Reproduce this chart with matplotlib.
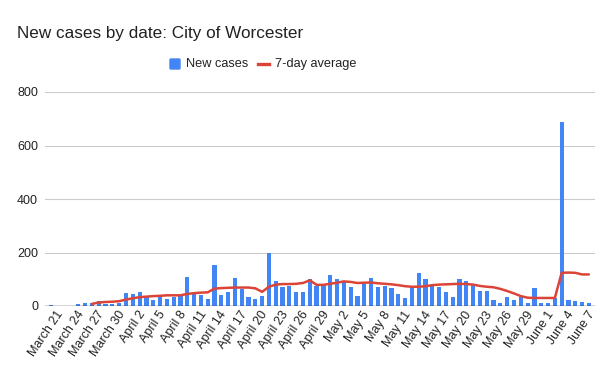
import matplotlib
matplotlib.use("Agg")
import matplotlib.pyplot as plt
import matplotlib.transforms as mtransforms
from matplotlib.patches import FancyBboxPatch
from matplotlib.lines import Line2D
import numpy as np

plt.rcParams['font.family'] = ['Liberation Sans', 'DejaVu Sans']

# ---- data (March 21 .. June 8) ----
days = ["March %d" % d for d in range(21, 32)] + \
       ["April %d" % d for d in range(1, 31)] + \
       ["May %d" % d for d in range(1, 32)] + \
       ["June %d" % d for d in range(1, 9)]

new_cases = [3, 0, 0, 0, 7, 10, 13, 17, 9, 9,
             10, 47, 43, 51, 38, 22, 38, 26, 33, 36,
             107, 44, 42, 25, 152, 42, 51, 103, 65, 33,
             25, 37, 200, 92, 72, 75, 51, 51, 100, 76,
             79, 117, 100, 93, 72, 38, 81, 106, 72, 76,
             66, 45, 29, 76, 122, 100, 76, 72, 51, 32,
             100, 92, 83, 56, 56, 22, 13, 35, 22, 32,
             13, 69, 13, 10, 29, 687, 22, 20, 16, 10]

seven_day_avg = [None, None, None, None, None, None, 8, 13, 15, 16,
                 18, 24, 29, 33, 35, 37, 38, 40, 40, 40,
                 45, 48, 50, 51, 65, 67, 68, 69, 69, 69,
                 66, 53, 72, 80, 82, 82, 83, 86, 96, 79,
                 79, 83, 87, 92, 90, 86, 87, 88, 85, 83,
                 81, 78, 74, 72, 72, 74, 78, 80, 81, 82,
                 83, 82, 80, 75, 72, 70, 64, 56, 47, 37,
                 31, 30, 30, 30, 30, 124, 125, 124, 118, 118]

y_ticks = [0, 200, 400, 600, 800]
title = "New cases by date: City of Worcester"
series_names = ["New cases", "7-day average"]

BLUE = "#4285F4"
RED = "#DB4437"
W, H = 613, 379

fig = plt.figure(figsize=(W / 100, H / 100), dpi=100)
ax = fig.add_axes([45 / W, 1 - 306 / H, (595 - 45) / W, (306 - 92) / H])

x = np.arange(len(days))
ax.bar(x, new_cases, width=0.62, color=BLUE, zorder=2)
avg = np.array([np.nan if v is None else v for v in seven_day_avg], dtype=float)
ax.plot(x, avg, color=RED, lw=1.8, zorder=3, solid_capstyle='round')

ax.set_xlim(-0.9, len(days) - 0.1)
ax.set_ylim(0, 800)
ax.set_yticks(y_ticks)
ax.set_yticklabels([str(v) for v in y_ticks], fontsize=9, color="#222222")
ax.grid(axis='y', color="#cccccc", lw=0.8, zorder=0)
ax.set_axisbelow(True)
for s in ax.spines.values():
    s.set_visible(False)
ax.axhline(0, color="#333333", lw=1.0, zorder=4)
ax.tick_params(axis='both', length=0)
ax.tick_params(axis='y', pad=5)

tick_idx = list(range(0, len(days), 3))
ax.set_xticks(tick_idx)
ax.set_xticklabels([days[i] for i in tick_idx], fontsize=9, color="#222222",
                   rotation=56, ha='right', va='top', rotation_mode='anchor')
offset = mtransforms.ScaledTranslation(5 / 100, 2 / 100, fig.dpi_scale_trans)
for lbl in ax.get_xticklabels():
    lbl.set_transform(lbl.get_transform() + offset)

def fx(px):
    return px / W

def fy(py):
    return 1 - py / H

fig.text(fx(17), fy(38.3), title, fontsize=12.3, color="#212121",
         ha='left', va='baseline')

# legend
fig.patches.append(FancyBboxPatch((fx(170), fy(69)), fx(10), 10 / H,
                                  boxstyle="round,pad=0,rounding_size=0.002",
                                  transform=fig.transFigure, color=BLUE,
                                  figure=fig))
fig.text(fx(186), fy(64), series_names[0], fontsize=9.2, color="#222222",
         ha='left', va='center')
fig.lines.append(Line2D([fx(258), fx(269)], [fy(64), fy(64)], color=RED, lw=2.4,
                        transform=fig.transFigure, figure=fig))
fig.text(fx(275), fy(64), series_names[1], fontsize=9.2, color="#222222",
         ha='left', va='center')

fig.savefig("out.png", dpi=100)
